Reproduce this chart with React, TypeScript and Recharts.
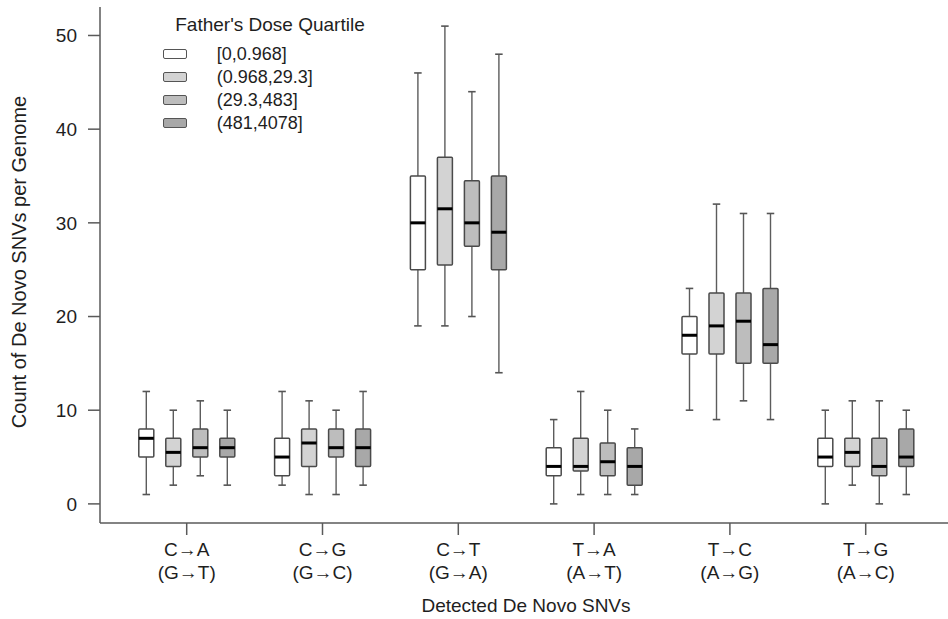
import React from "react";
import { BarChart, Bar, XAxis, YAxis, Legend, Label } from "recharts";

// Categories (two-line tick labels)
const categoryTop = ["C→A", "C→G", "C→T", "T→A", "T→C", "T→G"];
const categoryBottom = ["(G→T)", "(G→C)", "(G→A)", "(A→T)", "(A→G)", "(A→C)"];

// Father's dose quartile groups
const groupNames = ["[0,0.968]", "(0.968,29.3]", "(29.3,483]", "(481,4078]"];
const groupFills = ["#ffffff", "#d3d3d3", "#bdbdbd", "#a8a8a8"];

// Box statistics: [group][category]
const whiskerLow = [
  [1, 2, 19, 0, 10, 0],
  [2, 1, 19, 1, 9, 2],
  [3, 1, 20, 1, 11, 0],
  [2, 2, 14, 1, 9, 1],
];
const quartile1 = [
  [5, 3, 25, 3, 16, 4],
  [4, 4, 25.5, 3.5, 16, 4],
  [5, 5, 27.5, 3, 15, 3],
  [5, 4, 25, 2, 15, 4],
];
const medians = [
  [7, 5, 30, 4, 18, 5],
  [5.5, 6.5, 31.5, 4, 19, 5.5],
  [6, 6, 30, 4.5, 19.5, 4],
  [6, 6, 29, 4, 17, 5],
];
const quartile3 = [
  [8, 7, 35, 6, 20, 7],
  [7, 8, 37, 7, 22.5, 7],
  [8, 8, 34.5, 6.5, 22.5, 7],
  [7, 8, 35, 6, 23, 8],
];
const whiskerHigh = [
  [12, 12, 46, 9, 23, 10],
  [10, 11, 51, 12, 32, 11],
  [11, 10, 44, 10, 31, 11],
  [10, 12, 48, 8, 31, 10],
];

const yTicks = [0, 10, 20, 30, 40, 50];

const data = categoryTop.map((cat, c) => {
  const row: any = { cat, sub: categoryBottom[c] };
  groupNames.forEach((_, g) => {
    row[`g${g}`] = [whiskerLow[g][c], whiskerHigh[g][c]];
    row[`g${g}q`] = [quartile1[g][c], medians[g][c], quartile3[g][c]];
  });
  return row;
});

const FONT = "'Liberation Sans', Arial, Helvetica, sans-serif";
const TEXT = "#1e1e1e";
const AXIS = "#5a5a5a";

const makeBoxShape = (g: number) => (props: any) => {
  const { x, y, width, height, payload, fill } = props;
  const [lo, hi] = payload[`g${g}`];
  const [q1, med, q3] = payload[`g${g}q`];
  const py = (v: number) => y + ((hi - v) * height) / (hi - lo);
  const cx = x + width / 2;
  const cap = width / 2;
  return (
    <g>
      <line x1={cx} x2={cx} y1={py(hi)} y2={py(q3)} stroke="#5c5c5c" strokeWidth={1.4} />
      <line x1={cx} x2={cx} y1={py(q1)} y2={py(lo)} stroke="#5c5c5c" strokeWidth={1.4} />
      <line x1={cx - cap / 2} x2={cx + cap / 2} y1={py(hi)} y2={py(hi)} stroke="#555" strokeWidth={1.6} />
      <line x1={cx - cap / 2} x2={cx + cap / 2} y1={py(lo)} y2={py(lo)} stroke="#555" strokeWidth={1.6} />
      <rect x={x} y={py(q3)} width={width} height={py(q1) - py(q3)} fill={fill} stroke="#4a4a4a" strokeWidth={1.5} rx={1} />
      <line x1={x} x2={x + width} y1={py(med)} y2={py(med)} stroke="#000" strokeWidth={3} />
    </g>
  );
};

const XTick = (props: any) => {
  const { x, y, payload, index } = props;
  return (
    <g>
      <text x={x} y={y} dy={18.8} textAnchor="middle" fontSize={19} fill={TEXT} fontFamily={FONT}>
        {payload.value}
      </text>
      <text x={x} y={y} dy={41.8} textAnchor="middle" fontSize={19} fill={TEXT} fontFamily={FONT}>
        {categoryBottom[index]}
      </text>
    </g>
  );
};

const LegendContent = (props: any) => {
  const payload = [...(props.payload || [])].sort(
    (a: any, b: any) => groupNames.indexOf(a.value) - groupNames.indexOf(b.value)
  );
  return (
    <div style={{ width: 240, fontFamily: FONT, fontSize: 18, color: TEXT }}>
      <div style={{ height: 22, lineHeight: "22px", textAlign: "center", fontSize: 19 }}>Father's Dose Quartile</div>
      <div style={{ marginTop: 7 }}>
        {payload.map((p: any, i: number) => (
          <div key={i} style={{ height: 23, lineHeight: "23px", position: "relative" }}>
            <div
              style={{
                position: "absolute",
                left: 13,
                top: 6,
                width: 22,
                height: 8,
                background: p.payload?.fill ?? p.color,
                border: "1.5px solid #555",
                borderRadius: 2,
              }}
            />
            <span style={{ position: "absolute", left: 66.7, top: 0, whiteSpace: "nowrap" }}>{p.value}</span>
          </div>
        ))}
      </div>
    </div>
  );
};

export default function App() {
  return (
    <div style={{ width: 948, height: 619, background: "#fff" }}>
      <style>{"body{margin:0}"}</style>
      <BarChart
        width={948}
        height={619}
        data={data}
        margin={{ top: 7, right: 0, bottom: 0, left: 0 }}
        barSize={15}
        barGap={12}
      >
        <XAxis
          dataKey="cat"
          height={96}
          padding={{ left: 18.8, right: 14.4 }}
          tickSize={12}
          tickLine={{ stroke: AXIS, strokeWidth: 1.5 }}
          axisLine={{ stroke: AXIS, strokeWidth: 1.5 }}
          tick={<XTick />}
          interval={0}
        >
          <Label
            content={(p: any) => {
              const vb = p.viewBox;
              return (
                <text x={vb.x + vb.width / 2 + 2} y={vb.y + 88.8} textAnchor="middle" fontSize={19} fill={TEXT} fontFamily={FONT}>
                  Detected De Novo SNVs
                </text>
              );
            }}
          />
        </XAxis>
        <XAxis
          xAxisId="top"
          dataKey="cat"
          orientation="top"
          height={0}
          tick={false}
          tickLine={false}
          axisLine={{ stroke: AXIS, strokeWidth: 1.5 }}
        />
        <YAxis
          width={100}
          domain={[-2.04, 53.04]}
          ticks={yTicks}
          allowDataOverflow
          tickSize={12}
          tickMargin={11}
          tickLine={{ stroke: AXIS, strokeWidth: 1.5 }}
          axisLine={{ stroke: AXIS, strokeWidth: 1.5 }}
          tick={{ fontSize: 19, fill: TEXT, fontFamily: FONT }}
        >
          <Label
            content={(p: any) => {
              const vb = p.viewBox;
              const cx = 19;
              const cy = vb.y + vb.height / 2 - 3;
              return (
                <text x={cx} y={cy} dy={7} transform={`rotate(-90 ${cx} ${cy})`} textAnchor="middle" fontSize={20} fill={TEXT} fontFamily={FONT}>
                  Count of De Novo SNVs per Genome
                </text>
              );
            }}
          />
        </YAxis>
        <Legend
          layout="vertical"
          align="center"
          verticalAlign="middle"
          wrapperStyle={{ left: 150, top: 14, width: 240 }}
          content={<LegendContent />}
        />
        {groupNames.map((name, g) => (
          <Bar
            key={name}
            dataKey={`g${g}`}
            name={name}
            fill={groupFills[g]}
            isAnimationActive={false}
            shape={makeBoxShape(g)}
          />
        ))}
      </BarChart>
    </div>
  );
}
